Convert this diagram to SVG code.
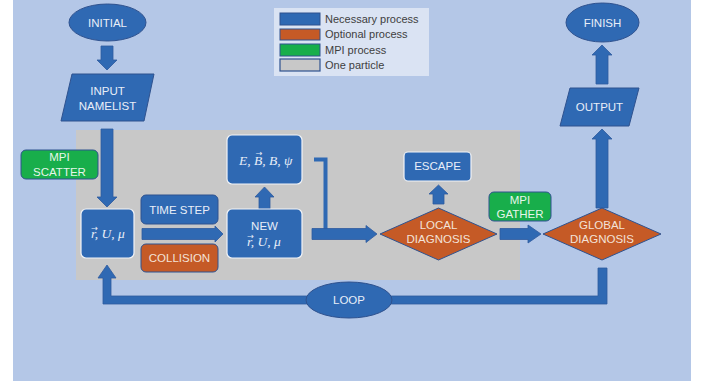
<svg xmlns="http://www.w3.org/2000/svg" width="717" height="381" viewBox="0 0 717 381">
<style>
.t{font-family:"Liberation Sans",Arial,sans-serif;font-size:11.5px;fill:#E8EEF8;text-anchor:middle}
.to{font-family:"Liberation Sans",Arial,sans-serif;font-size:11.5px;fill:#F3E2D8;text-anchor:middle}
.tg{font-family:"Liberation Sans",Arial,sans-serif;font-size:11.5px;fill:#E6F6EA;text-anchor:middle}
.m{font-family:"Liberation Serif","Times New Roman",serif;font-style:italic;font-size:13.5px;fill:#E8EEF8}
.va{font-family:"DejaVu Sans",sans-serif;font-style:normal;font-size:8px;text-anchor:middle}
.lg{font-family:"Liberation Sans",Arial,sans-serif;font-size:11px;fill:#404040}
.bw{fill:#2F69B3;stroke:#F2F4F8;stroke-width:1.2}
.bd{fill:#2F69B3;stroke:#2F528F;stroke-width:1}
.or{fill:#C55A26;stroke:#2F528F;stroke-width:1}
.gr{fill:#18AE4B;stroke:#2F528F;stroke-width:1}
.arr{fill:#2F69B3;stroke:#2F5A9E;stroke-width:0.8}
</style>
<rect x="13" y="0" width="678" height="381" fill="#B4C7E7"/>
<rect id="one-particle" x="76" y="130" width="444" height="150" fill="#C8C8C8"/>

<g id="legend">
<rect x="274" y="8" width="155" height="68" fill="#DAE3F3"/>
<rect x="280" y="13" width="40" height="12" class="bd" stroke-width="1.2"/>
<rect x="280" y="29" width="40" height="11" class="or" stroke-width="1.2"/>
<rect x="280" y="44" width="40" height="12" class="gr" stroke-width="1.2"/>
<rect x="280" y="59" width="40" height="12" fill="#C8C8C8" stroke="#2F528F" stroke-width="1.2"/>
<text class="lg" x="325" y="23">Necessary process</text>
<text class="lg" x="325" y="38">Optional process</text>
<text class="lg" x="325" y="54">MPI process</text>
<text class="lg" x="325" y="69">One particle</text>
</g>

<g id="connectors">
<polygon class="arr" points="101,46 113,46 113,60 117,60 107,70 97,60 101,60"/>
<polygon class="arr" points="101,129 113,129 113,197 117,197 107,207 97,197 101,197"/>
<polygon class="arr" points="142,228.5 215,228.5 215,226 223,234 215,242 215,239.5 142,239.5"/>
<polygon class="arr" points="259,209 270,209 270,197 274,197 264.5,187 255,197 259,197"/>
<polyline points="314,159.5 325.5,159.5 325.5,230" fill="none" stroke="#2F69B3" stroke-width="4"/>
<polygon class="arr" points="312,228.5 366,228.5 366,225.5 377,234 366,242.5 366,239.5 312,239.5"/>
<polygon class="arr" points="433,204 444,204 444,194 448,194 438.5,185 429,194 433,194"/>
<polygon class="arr" points="500,228.5 528,228.5 528,225 541,234 528,243 528,239.5 500,239.5"/>
<polygon class="arr" points="596,208 608,208 608,139 612,139 602,129 592,139 596,139"/>
<polygon class="arr" points="596,84 608,84 608,55 612,55 602,45 592,55 596,55"/>
<path class="arr" d="M598,268 L607,268 L607,304 L103,304 L103,278 L98,278 L107,265 L116,278 L111,278 L111,296 L598,296 Z"/>
</g>

<g id="initial">
<ellipse cx="107.5" cy="22.5" rx="38.5" ry="18.5" class="bd"/>
<text class="t" x="107.5" y="27">INITIAL</text>
</g>

<g id="input-namelist">
<polygon points="72,74 154,74 144,121 61,121" class="bd"/>
<text class="t" x="107.5" y="95">INPUT</text>
<text class="t" x="107.5" y="110">NAMELIST</text>
</g>

<g id="mpi-scatter">
<rect x="21" y="150" width="77" height="29" rx="5" class="gr"/>
<text class="tg" x="59.5" y="161">MPI</text>
<text class="tg" x="59.5" y="176">SCATTER</text>
</g>

<g id="state">
<rect x="81" y="209" width="53" height="49" rx="5" class="bw"/>
<text class="m"><tspan x="91" y="238">r, U, μ</tspan><tspan class="va" x="94.5" y="231">→</tspan></text>
</g>

<g id="time-step">
<rect x="141" y="195" width="77" height="29" rx="5" class="bd"/>
<text class="t" x="179.5" y="214">TIME STEP</text>
</g>

<g id="collision">
<rect x="141" y="244" width="77" height="28" rx="5" class="or"/>
<text class="to" x="179.5" y="262">COLLISION</text>
</g>

<g id="new-state">
<rect x="227" y="209" width="75" height="49" rx="5" class="bw"/>
<text class="t" x="264.5" y="230">NEW</text>
<text class="m"><tspan x="247" y="246">r, U, μ</tspan><tspan class="va" x="250.5" y="238.5">→</tspan></text>
</g>

<g id="fields">
<rect x="227" y="135" width="75" height="49" rx="5" class="bw"/>
<text class="m"><tspan x="239" y="165">E, B, B, ψ</tspan><tspan class="va" x="259" y="156">→</tspan></text>
</g>

<g id="escape">
<rect x="404" y="152" width="67" height="29" rx="4" class="bw"/>
<text class="t" x="437.5" y="170">ESCAPE</text>
</g>

<g id="local-diagnosis">
<polygon points="380,234 438.5,208 497,234 438.5,260" class="or"/>
<text class="to" x="438.5" y="229">LOCAL</text>
<text class="to" x="438.5" y="243">DIAGNOSIS</text>
</g>

<g id="mpi-gather">
<rect x="489" y="192" width="62" height="29" rx="5" class="gr"/>
<text class="tg" x="520" y="204">MPI</text>
<text class="tg" x="520" y="218">GATHER</text>
</g>

<g id="global-diagnosis">
<polygon points="543,234 602,208 661,234 602,260" class="or"/>
<text class="to" x="602" y="229">GLOBAL</text>
<text class="to" x="602" y="243">DIAGNOSIS</text>
</g>

<g id="output">
<polygon points="570,88 639,88 629,126 560,126" class="bd"/>
<text class="t" x="599.5" y="111">OUTPUT</text>
</g>

<g id="finish">
<ellipse cx="602.5" cy="22.5" rx="36.5" ry="19.5" class="bd"/>
<text class="t" x="602.5" y="27">FINISH</text>
</g>

<g id="loop">
<ellipse cx="349" cy="300" rx="43" ry="18" class="bd"/>
<text class="t" x="349" y="304">LOOP</text>
</g>
</svg>
